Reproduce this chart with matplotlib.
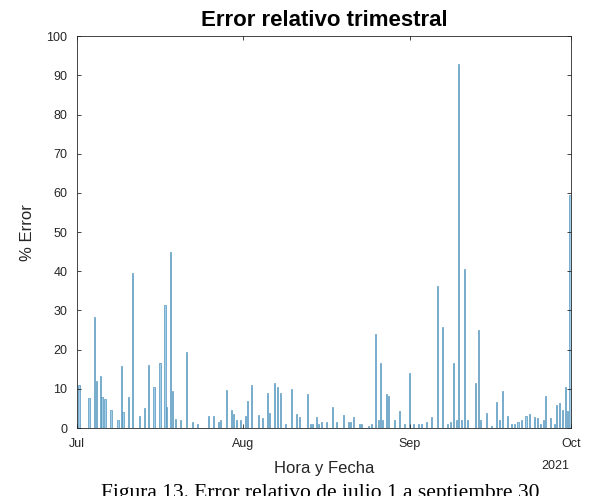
import matplotlib
matplotlib.use("Agg")
import matplotlib.pyplot as plt
import numpy as np
from datetime import datetime, timedelta

# Day offsets from 2021-07-01 and relative error (%)
day_offsets = [0.37, 2.23, 3.30, 3.67, 4.34, 4.66, 5.21, 6.33, 7.64, 8.32, 8.57, 9.68,
               10.37, 11.68, 12.66, 13.35, 14.34, 15.46, 16.39, 16.70, 17.38, 17.75,
               18.38, 19.37, 20.36, 21.55, 22.48, 24.53, 25.38, 26.44, 26.82, 27.88,
               28.81, 29.24, 29.80, 30.49, 31.42, 31.85, 32.46, 33.89, 34.51, 35.57,
               35.94, 36.82, 37.43, 37.94, 38.87, 39.91, 40.92, 41.53, 42.97, 43.58,
               43.95, 44.57, 45.07, 45.63, 46.56, 47.54, 48.42, 49.59, 50.60, 50.97,
               51.59, 52.57, 53.08, 54.38, 54.94, 55.68, 56.11, 56.61, 56.93, 57.60,
               57.97, 59.16, 60.02, 61.03, 62.01, 62.70, 63.69, 64.25, 65.12, 66.11,
               67.10, 68.16, 69.09, 69.59, 70.21, 70.71, 71.14, 71.57, 72.20, 72.82,
               74.25, 74.73, 75.24, 76.22, 77.23, 78.16, 78.77, 79.20, 80.20, 80.88,
               81.57, 82.18, 82.82, 83.67, 84.31, 85.24, 85.80, 86.36, 86.84, 87.34,
               88.27, 88.89, 89.33, 89.89, 90.38, 90.94, 91.38, 91.87]
error_pct = [11, 7.6, 28.3, 12, 13.3, 7.9, 7.4, 4.6, 2, 15.8, 4, 8,
             39.5, 3, 5, 16, 10.5, 16.5, 31.4, 5.4, 45, 9.5,
             2.2, 2, 19.4, 1.5, 1, 3, 3, 1.5, 2, 9.7,
             4.6, 3.5, 2, 2, 3, 7, 11, 3.3, 2.5, 9,
             3.9, 11.5, 10.5, 9, 1, 10, 3.5, 2.8, 8.6, 1,
             1, 2.8, 1, 1.5, 1.5, 5.4, 1.5, 3.3, 1.5, 1.5,
             2.8, 1, 1, 0.5, 1, 24, 2, 16.5, 2, 8.6,
             8.2, 2, 4.4, 1, 14, 1, 1, 1, 1.5, 2.8,
             36.3, 25.7, 1, 1.5, 16.6, 2, 93, 2, 40.5, 2,
             11.5, 25, 2, 3.9, 0.5, 6.6, 2, 9.5, 3.1, 1,
             1, 1.5, 2, 3.1, 3.6, 2.8, 2.5, 1, 2, 8.3,
             2.5, 1, 5.9, 6.4, 4.5, 10.5, 4.4, 59.5]

start = datetime(2021, 7, 1)
end = datetime(2021, 10, 1)
dates = [start + timedelta(days=d) for d in day_offsets]

month_ticks = [datetime(2021, 7, 1), datetime(2021, 8, 1), datetime(2021, 9, 1), datetime(2021, 10, 1)]
month_labels = ["Jul", "Aug", "Sep", "Oct"]

plt.rcParams['font.family'] = ['Liberation Sans', 'DejaVu Sans']

fig = plt.figure(figsize=(5.97, 4.96), dpi=100)
ax = fig.add_axes([0.129, 0.137, 0.827, 0.790])

ax.bar(dates, error_pct, width=0.2, color='#9fcdea', edgecolor='#4a8db5', linewidth=0.45)

ax.set_xlim(start, end)
ax.set_ylim(0, 100)
ax.set_yticks(np.arange(0, 101, 10))
ax.set_xticks(month_ticks)
ax.set_xticklabels(month_labels)
ax.tick_params(direction='in', top=True, right=True, labelsize=9, length=3,
               colors='#262626', width=0.6)
ax.tick_params(axis='y', pad=7)
ax.tick_params(axis='x', pad=7)
for lbl in ax.get_xticklabels() + ax.get_yticklabels():
    lbl.set_color('#262626')
for s in ax.spines.values():
    s.set_color('#262626')
    s.set_linewidth(0.6)

ax.set_title("Error relativo trimestral", fontsize=16, fontweight='bold', pad=7)
ax.set_ylabel("% Error", fontsize=12, color='#262626', labelpad=8)
ax.set_xlabel("Hora y Fecha", fontsize=12, color='#262626', labelpad=8)
fig.text(555 / 597, 1 - 466 / 496, "2021", fontsize=9, ha='center', va='center', color='#262626')
fig.text(320 / 597, 1 - 484 / 496, "Figura 13. Error relativo de julio 1 a septiembre 30",
         fontsize=15.5, ha='center', va='top', family=['Liberation Serif', 'DejaVu Serif'])

fig.savefig("out.png", dpi=100)
